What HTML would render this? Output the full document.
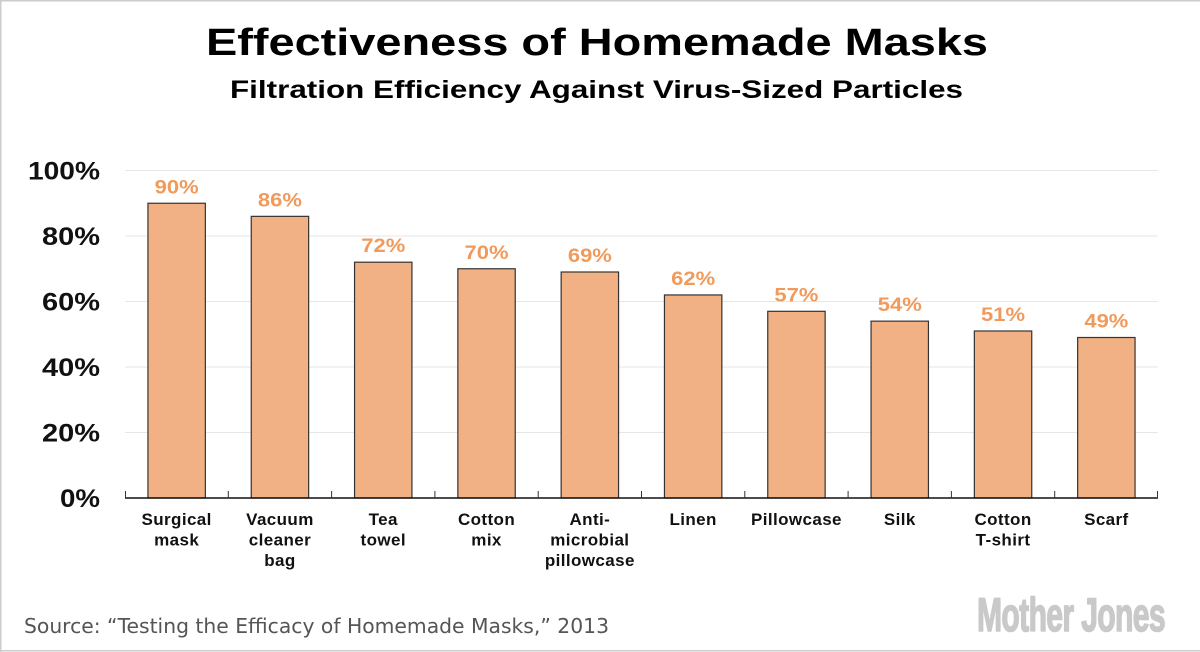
<!DOCTYPE html>
<html>
<head>
<meta charset="utf-8">
<style>
  html, body { margin: 0; padding: 0; background: #fff; }
  svg { display: block; }
  .bold { font-family: "Liberation Sans", "DejaVu Sans", sans-serif; font-weight: bold; }
</style>
</head>
<body>
<svg width="1200" height="652" viewBox="0 0 1200 652" xmlns="http://www.w3.org/2000/svg">
  <rect x="0" y="0" width="1200" height="652" fill="#ffffff"/>
  <!-- border -->
  <line x1="0.75" y1="0" x2="0.75" y2="652" stroke="#cccccc" stroke-width="1.5"/>
  <line x1="0" y1="0.75" x2="1200" y2="0.75" stroke="#cccccc" stroke-width="1.5"/>
  <line x1="0" y1="650.75" x2="1200" y2="650.75" stroke="#cccccc" stroke-width="1.5"/>

  <!-- Titles -->
  <text class="bold" x="206" y="55" font-size="38" fill="#000" textLength="782" lengthAdjust="spacingAndGlyphs">Effectiveness of Homemade Masks</text>
  <text class="bold" x="230" y="98" font-size="25" fill="#000" textLength="733" lengthAdjust="spacingAndGlyphs">Filtration Efficiency Against Virus-Sized Particles</text>

  <!-- Gridlines -->
  <g stroke="#e6e6e6" stroke-width="1">
    <line x1="125" y1="170.5" x2="1158" y2="170.5"/>
    <line x1="125" y1="236" x2="1158" y2="236"/>
    <line x1="125" y1="301.5" x2="1158" y2="301.5"/>
    <line x1="125" y1="367" x2="1158" y2="367"/>
    <line x1="125" y1="432.5" x2="1158" y2="432.5"/>
  </g>

  <!-- Y labels -->
  <g class="bold" font-size="25" fill="#111">
    <text x="28" y="179.5" textLength="72" lengthAdjust="spacingAndGlyphs">100%</text>
    <text x="42" y="245" textLength="58" lengthAdjust="spacingAndGlyphs">80%</text>
    <text x="42" y="310.5" textLength="58" lengthAdjust="spacingAndGlyphs">60%</text>
    <text x="42" y="376" textLength="58" lengthAdjust="spacingAndGlyphs">40%</text>
    <text x="42" y="441.5" textLength="58" lengthAdjust="spacingAndGlyphs">20%</text>
    <text x="60" y="507" textLength="40" lengthAdjust="spacingAndGlyphs">0%</text>
  </g>

  <!-- Bars -->
  <g fill="#F2B185" stroke="#333333" stroke-width="1.2">
    <rect x="147.95" y="203.25" width="57.4" height="294.75"/>
    <rect x="251.25" y="216.35" width="57.4" height="281.65"/>
    <rect x="354.55" y="262.2" width="57.4" height="235.8"/>
    <rect x="457.85" y="268.75" width="57.4" height="229.25"/>
    <rect x="561.15" y="272.0" width="57.4" height="226.0"/>
    <rect x="664.45" y="294.95" width="57.4" height="203.05"/>
    <rect x="767.75" y="311.3" width="57.4" height="186.7"/>
    <rect x="871.05" y="321.15" width="57.4" height="176.85"/>
    <rect x="974.35" y="331.0" width="57.4" height="167.0"/>
    <rect x="1077.65" y="337.5" width="57.4" height="160.5"/>
  </g>

  <!-- Value labels -->
  <g class="bold" font-size="19" fill="#F09A5C">
    <text x="154.65" y="193.25" textLength="44" lengthAdjust="spacingAndGlyphs">90%</text>
    <text x="257.95" y="206.35" textLength="44" lengthAdjust="spacingAndGlyphs">86%</text>
    <text x="361.25" y="252.2" textLength="44" lengthAdjust="spacingAndGlyphs">72%</text>
    <text x="464.55" y="258.75" textLength="44" lengthAdjust="spacingAndGlyphs">70%</text>
    <text x="567.85" y="262.0" textLength="44" lengthAdjust="spacingAndGlyphs">69%</text>
    <text x="671.15" y="284.95" textLength="44" lengthAdjust="spacingAndGlyphs">62%</text>
    <text x="774.45" y="301.3" textLength="44" lengthAdjust="spacingAndGlyphs">57%</text>
    <text x="877.75" y="311.15" textLength="44" lengthAdjust="spacingAndGlyphs">54%</text>
    <text x="981.05" y="321.0" textLength="44" lengthAdjust="spacingAndGlyphs">51%</text>
    <text x="1084.35" y="327.5" textLength="44" lengthAdjust="spacingAndGlyphs">49%</text>
  </g>

  <!-- Axis -->
  <line x1="125" y1="498" x2="1158" y2="498" stroke="#111" stroke-width="1.6"/>
  <g stroke="#333" stroke-width="1">
    <line x1="125.5" y1="491" x2="125.5" y2="498"/>
    <line x1="228.3" y1="491" x2="228.3" y2="498"/>
    <line x1="331.6" y1="491" x2="331.6" y2="498"/>
    <line x1="434.9" y1="491" x2="434.9" y2="498"/>
    <line x1="538.2" y1="491" x2="538.2" y2="498"/>
    <line x1="641.5" y1="491" x2="641.5" y2="498"/>
    <line x1="744.8" y1="491" x2="744.8" y2="498"/>
    <line x1="848.1" y1="491" x2="848.1" y2="498"/>
    <line x1="951.4" y1="491" x2="951.4" y2="498"/>
    <line x1="1054.7" y1="491" x2="1054.7" y2="498"/>
    <line x1="1157.5" y1="491" x2="1157.5" y2="498"/>
  </g>

  <!-- X labels -->
  <g class="bold" font-size="17" fill="#111" text-anchor="middle" letter-spacing="0.4">
    <text x="176.65" y="525">Surgical</text>
    <text x="176.65" y="545.5">mask</text>
    <text x="279.95" y="525">Vacuum</text>
    <text x="279.95" y="545.5">cleaner</text>
    <text x="279.95" y="566">bag</text>
    <text x="383.25" y="525">Tea</text>
    <text x="383.25" y="545.5">towel</text>
    <text x="486.55" y="525">Cotton</text>
    <text x="486.55" y="545.5">mix</text>
    <text x="589.85" y="525">Anti-</text>
    <text x="589.85" y="545.5">microbial</text>
    <text x="589.85" y="566">pillowcase</text>
    <text x="693.15" y="525">Linen</text>
    <text x="796.45" y="525">Pillowcase</text>
    <text x="899.75" y="525">Silk</text>
    <text x="1003.05" y="525">Cotton</text>
    <text x="1003.05" y="545.5">T-shirt</text>
    <text x="1106.35" y="525">Scarf</text>
  </g>

  <!-- Source -->
  <text x="24" y="633" font-family="'DejaVu Sans', 'Liberation Sans', sans-serif" font-size="20" fill="#555555" textLength="585" lengthAdjust="spacingAndGlyphs">Source: “Testing the Efficacy of Homemade Masks,” 2013</text>

  <!-- Logo -->
  <text class="bold" x="977" y="631" font-size="47" fill="#c9c9c9" stroke="#c9c9c9" stroke-width="1.6" stroke-linejoin="round" textLength="188" lengthAdjust="spacingAndGlyphs" letter-spacing="-1">Mother Jones</text>
</svg>
</body>
</html>
